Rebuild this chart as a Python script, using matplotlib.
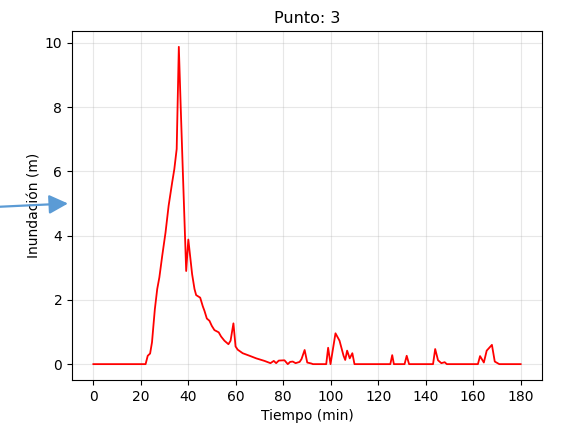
import matplotlib
matplotlib.use("Agg")
import matplotlib.pyplot as plt
from matplotlib.patches import FancyArrowPatch, ArrowStyle

# Flood depth time series at control point 3
tiempo = [0, 22.0, 22.9, 23.9, 24.7, 25.3, 25.9, 26.9, 27.8, 29.0, 30.4, 31.7,
          33.2, 34.1, 35.1, 36.0, 36.8, 37.6, 39.1, 40.0, 41.6, 42.6, 43.3,
          45.0, 46.1, 46.8, 47.8, 48.9, 49.9, 51.0, 52.8, 53.8, 55.2, 56.9,
          57.8, 59.0, 59.9, 60.8, 62.9, 65.8, 68.6, 72.1, 74.6, 76.0, 77.0,
          78.1, 80.5, 81.9, 82.9, 84.0, 85.2, 86.9, 87.7, 89.0, 90.1, 91.8,
          92.5, 98.1, 98.9, 99.9, 102.0, 103.7, 105.4, 106.1, 106.9, 108.0,
          109.1, 110.0, 125.1, 125.9, 126.6, 131.1, 132.0, 133.0, 143.1,
          144.0, 145.2, 146.6, 148.0, 148.9, 162.0, 162.9, 164.5, 165.7,
          167.9, 169.1, 171.0, 180.0]
inundacion = [0, 0, 0.26, 0.33, 0.68, 1.20, 1.71, 2.34, 2.70, 3.37, 4.10, 4.93,
              5.66, 6.07, 6.70, 9.88, 8.00, 6.20, 2.90, 3.88, 2.80, 2.34, 2.15,
              2.07, 1.80, 1.66, 1.42, 1.35, 1.19, 1.06, 0.99, 0.86, 0.73, 0.62,
              0.73, 1.27, 0.55, 0.45, 0.34, 0.26, 0.18, 0.10, 0.03, 0.10, 0.03,
              0.11, 0.12, 0.0, 0.07, 0.08, 0.03, 0.07, 0.16, 0.44, 0.05, 0.02,
              0.0, 0.0, 0.51, 0.0, 0.96, 0.73, 0.26, 0.13, 0.42, 0.18,
              0.34, 0.0, 0.0, 0.28, 0.0, 0.0, 0.26, 0.0, 0.0,
              0.47, 0.12, 0.03, 0.06, 0.0, 0.0, 0.25, 0.05, 0.42,
              0.60, 0.08, 0.0, 0.0]

fig = plt.figure(figsize=(5.63, 4.25), dpi=100)
ax = fig.add_axes([0.1279, 0.1059, 0.8348, 0.8212])

ax.plot(tiempo, inundacion, color="red", linewidth=1.3)
ax.set_title("Punto: 3", fontsize=11.5)
ax.set_xlabel("Tiempo (min)", fontsize=10)
ax.set_ylabel("Inundación (m)", fontsize=10, labelpad=2)
ax.set_xticks(range(0, 181, 20))
ax.set_yticks(range(0, 11, 2))
ax.tick_params(labelsize=10)
ax.grid(True, alpha=0.3)

# Pointer arrow at the left margin
arrow = FancyArrowPatch(
    posA=(-0.01, 1 - 207 / 425), posB=(68 / 563, 1 - 203.5 / 425),
    transform=fig.transFigure,
    arrowstyle=ArrowStyle("-|>", head_length=11.5, head_width=5.8),
    mutation_scale=1, shrinkA=0, shrinkB=0,
    color="#5b9bd5", linewidth=1.6, clip_on=False)
fig.patches.append(arrow)

fig.savefig("out.png", dpi=100)
